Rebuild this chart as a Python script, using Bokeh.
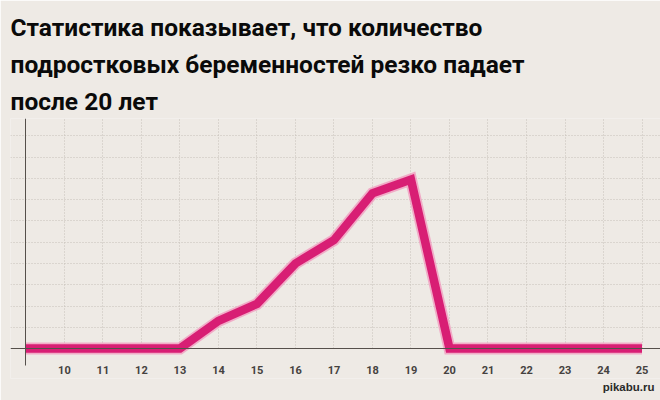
from bokeh.plotting import figure
from bokeh.models import LinearAxis, Range1d, Title, FixedTicker, ColumnDataSource, Grid
from bokeh.embed import file_html
from bokeh.resources import INLINE

ages = [9, 10, 11, 12, 13, 14, 15, 16, 17, 18, 19, 20, 21, 22, 23, 24, 25]
values = [0, 0, 0, 0, 0, 1.3, 2.1, 4.0, 5.1, 7.3, 7.95, 0, 0, 0, 0, 0, 0]
tick_ages = list(range(10, 26))
grid_levels = list(range(1, 11))
title_lines = [
    "Статистика показывает, что количество",
    "подростковых беременностей резко падает",
    "после 20 лет",
]
watermark = "pikabu.ru"

BG = "#eeeae5"
Y_TOP = 10.82
Y_AXIS_BOTTOM = -0.8

p = figure(width=660, height=400, output_backend="svg", toolbar_location=None,
           x_axis_type=None, y_axis_type=None,
           x_range=Range1d(8.6, 25.48), y_range=Range1d(-1.41, Y_TOP),
           min_border_left=10, min_border_right=0, min_border_top=115, min_border_bottom=22)
p.background_fill_color = BG
p.border_fill_color = BG
p.outline_line_color = None

# axes at fixed locations
xaxis = LinearAxis(fixed_location=0, ticker=FixedTicker(ticks=tick_ages))
xaxis.axis_line_color = "#55504b"
xaxis.axis_line_width = 1
xaxis.major_tick_line_color = None
xaxis.minor_tick_line_color = None
xaxis.major_tick_out = 0
xaxis.major_tick_in = 0
xaxis.major_label_standoff = 17
xaxis.major_label_text_font = "Roboto"
xaxis.major_label_text_font_size = "11px"
xaxis.major_label_text_font_style = "bold"
xaxis.major_label_text_color = "#45423f"
p.add_layout(xaxis, "below")

yaxis = LinearAxis(fixed_location=ages[0], ticker=FixedTicker(ticks=[]), bounds=(Y_AXIS_BOTTOM, Y_TOP))
yaxis.axis_line_color = "#55504b"
yaxis.axis_line_width = 1
yaxis.major_tick_line_color = None
yaxis.minor_tick_line_color = None
yaxis.major_label_text_font_size = "0px"
p.add_layout(yaxis, "left")

# dotted grids
gx = Grid(dimension=0, ticker=FixedTicker(ticks=tick_ages), grid_line_color="#c7c0b8",
          grid_line_dash="1 2", grid_line_width=1, cross_bounds=(0, Y_TOP))
gy = Grid(dimension=1, ticker=FixedTicker(ticks=grid_levels), grid_line_color="#c7c0b8",
          grid_line_dash="1 2", grid_line_width=1)
p.add_layout(gx, "center")
p.add_layout(gy, "center")

src = ColumnDataSource(dict(x=ages, y=values))
p.line("x", "y", source=src, line_color="#f291bb", line_width=12, line_alpha=0.7, line_join="miter")
p.line("x", "y", source=src, line_color="#d81e74", line_width=8.5, line_join="miter")

# title lines (stacked from the top; a thin spacer first)
for line in reversed(title_lines):
    t = Title(text=line, text_font="Roboto", text_font_size="24.5px", text_font_style="bold",
              text_color="#0a0a0a", align="left", offset=0, standoff=6)
    p.add_layout(t, "above")
p.add_layout(Title(text=" ", text_font_size="4px", standoff=0), "above")

wm = Title(text=watermark, text_font="Liberation Sans", text_font_size="11.5px", text_font_style="bold",
           text_color="#2a2a2a", align="right", standoff=0, offset=6)
p.add_layout(wm, "below")

open("out.html", "w").write(file_html(p, INLINE))
